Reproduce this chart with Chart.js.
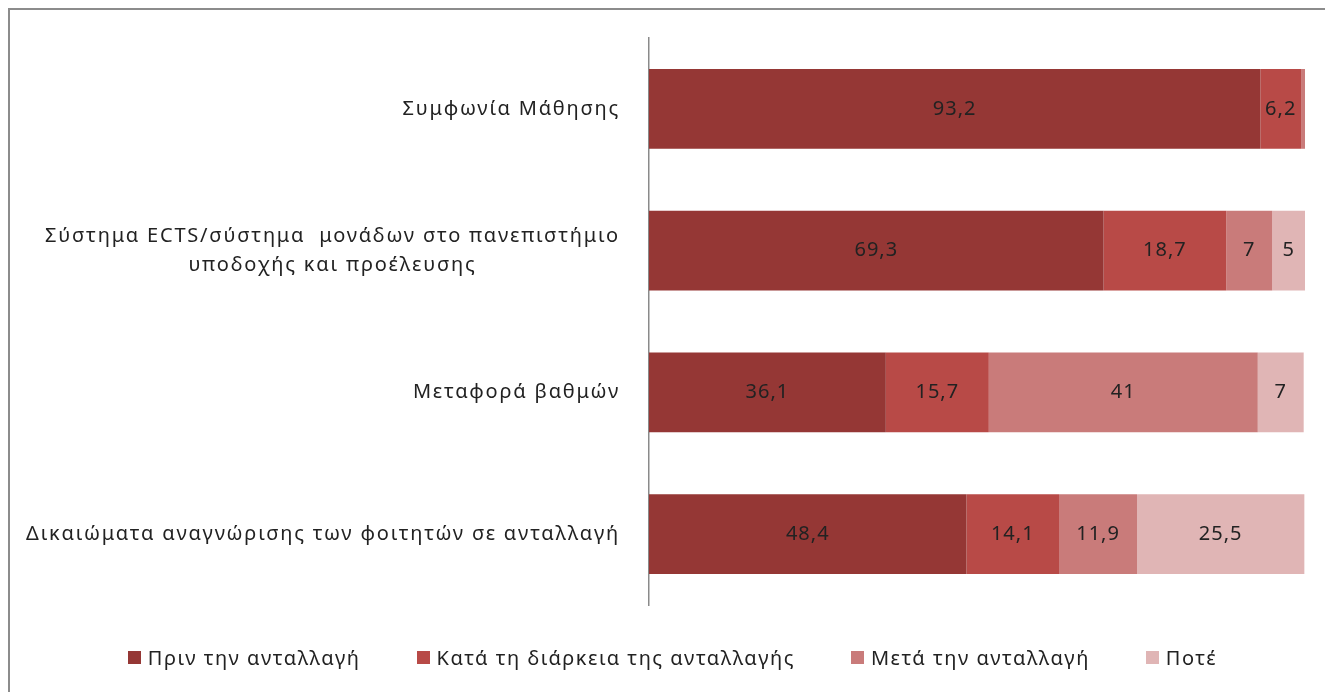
<!DOCTYPE html>
<html>
<head>
<meta charset="utf-8">
<script src="https://cdn.jsdelivr.net/npm/chart.js@4/dist/chart.umd.min.js"></script>
<style>
	body { margin: 0; background: #fff; overflow: hidden; }
	#wrap { position: relative; width: 1325px; height: 692px; }
	#frame { position: absolute; left: 8px; top: 8px; width: 1400px; height: 800px; border: 2px solid #8c8c8c; pointer-events: none; }
	#legend { position: absolute; top: 644px; left: 10px; width: 1325px; display: flex; justify-content: center; font-family: 'Noto Sans', sans-serif; font-size: 20px; letter-spacing: 1.5px; color: #222; }
	#legend span.item { display: flex; align-items: center; margin: 0 28px; }
	#legend span.box { width: 13px; height: 13px; margin-right: 7px; display: inline-block; }
</style>
</head>
<body>
<div id="wrap">
	<canvas id="chart1" width="1325" height="692"></canvas>
	<div id="frame"></div>
	<div id="legend"></div>
</div>
<script>
const categories = [
	['Συμφωνία Μάθησης'],
	['Σύστημα ECTS/σύστημα  μονάδων στο πανεπιστήμιο', 'υποδοχής και προέλευσης'],
	['Μεταφορά βαθμών'],
	['Δικαιώματα αναγνώρισης των φοιτητών σε ανταλλαγή']
];
const seriesNames = ['Πριν την ανταλλαγή', 'Κατά τη διάρκεια της ανταλλαγής', 'Μετά την ανταλλαγή', 'Ποτέ'];
const before = [93.2, 69.3, 36.1, 48.4];
const during = [6.2, 18.7, 15.7, 14.1];
const after = [0.6, 7, 41, 11.9];
const never = [0, 5, 7, 25.5];
const colors = ['#953735', '#B84A47', '#C97B7A', '#E0B5B5'];

//labels inside the bars
const barLabels = {
	id: 'barLabels',
	afterDatasetsDraw(chart) {
		const ctx = chart.ctx;
		ctx.save();
		ctx.font = '20px "Noto Sans"';
		ctx.letterSpacing = '1px';
		ctx.fillStyle = '#222';
		ctx.textAlign = 'center';
		ctx.textBaseline = 'middle';
		chart.data.datasets.forEach((ds, i) => {
			chart.getDatasetMeta(i).data.forEach((el, j) => {
				let v = ds.data[j];
				if(v < 2) return;
				ctx.fillText(String(v).replace('.', ','), (el.x + el.base) / 2, el.y);
			});
		});
		ctx.restore();
	}
};

//category labels, right aligned block, lines centered inside
const catLabels = {
	id: 'catLabels',
	afterDraw(chart) {
		const ctx = chart.ctx;
		const y = chart.scales.y;
		const right = chart.chartArea.left - 29;
		const lineH = 29;
		ctx.save();
		ctx.font = '20px "Noto Sans"';
		ctx.letterSpacing = '1.8px';
		ctx.fillStyle = '#222';
		ctx.textAlign = 'center';
		ctx.textBaseline = 'middle';
		categories.forEach((lines, i) => {
			let maxW = Math.max(...lines.map(l => ctx.measureText(l).width));
			let cx = right - maxW / 2;
			let cy = y.getPixelForValue(i) - (lines.length - 1) * lineH / 2;
			lines.forEach((l, k) => ctx.fillText(l, cx, cy + k * lineH));
		});
		ctx.restore();
	}
};

let legend = document.getElementById('legend');
seriesNames.forEach((n, i) => {
	let item = document.createElement('span');
	item.className = 'item';
	item.innerHTML = '<span class="box" style="background:' + colors[i] + '"></span>' + n;
	legend.appendChild(item);
});

new Chart(document.getElementById('chart1'), {
	type: 'bar',
	data: {
		labels: categories.map(c => c.join(' ')),
		datasets: [before, during, after, never].map((d, i) => {
			return {
				label: seriesNames[i],
				data: d,
				backgroundColor: colors[i],
				borderWidth: 0,
				barPercentage: 0.563,
				categoryPercentage: 1
			};
		})
	},
	options: {
		indexAxis: 'y',
		responsive: false,
		animation: false,
		layout: { padding: { top: 38, right: 20, bottom: 87, left: 0 } },
		plugins: {
			legend: { display: false },
			tooltip: { enabled: false }
		},
		scales: {
			x: { stacked: true, min: 0, max: 100, display: false },
			y: {
				stacked: true,
				grid: { display: false },
				border: { display: true, color: '#8a8a8a', width: 1.5 },
				ticks: { display: false },
				afterFit(scale) { scale.width = 649; }
			}
		}
	},
	plugins: [barLabels, catLabels]
});
</script>
</body>
</html>
